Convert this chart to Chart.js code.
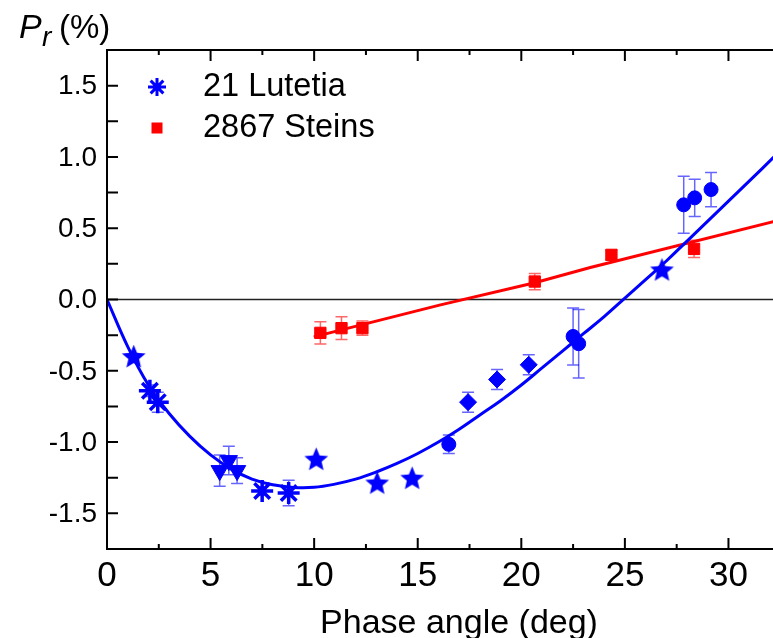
<!DOCTYPE html>
<html lang="en">
<head>
<meta charset="UTF-8">
<title>Polarization vs phase angle</title>
<script src="https://cdn.jsdelivr.net/npm/chart.js"></script>
<style>
  body { margin: 0; background: #fff; }
  canvas { display: block; }
</style>
</head>
<body>
<canvas id="myChart" width="773" height="638"></canvas>
<script>
// 21 Lutetia, one pair of arrays per marker type
const lutStarX = [1.29, 10.1, 13.04, 14.73, 26.79];
const lutStarY = [-0.40, -1.12, -1.287, -1.253, 0.208];
const lutStarErr = [0, 0, 0, 0, 0];

const lutAstX = [2.07, 2.45, 7.49, 8.77];
const lutAstY = [-0.64, -0.72, -1.343, -1.357];
const lutAstErr = [0.04, 0.07, 0.03, 0.09];

const lutTriX = [5.44, 5.88, 6.28];
const lutTriY = [-1.20, -1.13, -1.20];
const lutTriErr = [0.11, 0.10, 0.09];

const lutCircX = [16.5, 22.5, 22.77, 27.84, 28.37, 29.16];
const lutCircY = [-1.016, -0.259, -0.31, 0.664, 0.713, 0.771];
const lutCircErr = [0.065, 0.20, 0.24, 0.20, 0.13, 0.12];

const lutDiaX = [17.43, 18.83, 20.36];
const lutDiaY = [-0.72, -0.561, -0.458];
const lutDiaErr = [0.07, 0.07, 0.07];

// 2867 Steins
const steinsX = [10.3, 11.32, 12.33, 20.65, 24.35, 28.34];
const steinsY = [-0.234, -0.201, -0.201, 0.126, 0.313, 0.355];
const steinsErr = [0.078, 0.08, 0.05, 0.057, 0.035, 0.06];

// fitted curves
const fitLutX = [0, 1, 2, 3, 4, 5, 6, 7, 8, 9, 10, 11, 12, 13, 14, 15, 16, 17, 18, 19, 20, 21, 22, 23, 24, 25, 26, 27, 28, 29, 30, 31, 32.2];
const fitLutY = [0, -0.33, -0.60, -0.80, -0.96, -1.09, -1.19, -1.26, -1.30, -1.318, -1.317, -1.295, -1.26, -1.21, -1.15, -1.08, -1.00, -0.91, -0.81, -0.71, -0.60, -0.48, -0.36, -0.24, -0.12, 0.01, 0.14, 0.27, 0.41, 0.55, 0.69, 0.83, 1.00];
const fitSteinsX = [9.98, 16.1, 20.65, 23.33, 32.2];
const fitSteinsY = [-0.262, -0.038, 0.118, 0.224, 0.547];

// axis ticks
const xTicks = [0, 5, 10, 15, 20, 25, 30];
const xMinorTicks = [2.5, 7.5, 12.5, 17.5, 22.5, 27.5];
const yTicks = [-1.5, -1.0, -0.5, 0.0, 0.5, 1.0, 1.5];
const yTickLabels = ['-1.5', '-1.0', '-0.5', '0.0', '0.5', '1.0', '1.5'];
const yMinorTicks = [-1.25, -0.75, -0.25, 0.25, 0.75, 1.25];

const BLUE = '#0000ff';
const RED = '#ff0000';
const FONT = '"Liberation Sans", Arial, sans-serif';

function pts(xs, ys) {
    return xs.map((x, i) => ({ x: x, y: ys[i] }));
}

// filled five-point star used as a marker image
function makeStar(r, color) {
    const c = document.createElement('canvas');
    const s = Math.ceil(r * 2 + 2);
    c.width = s;
    c.height = s;
    const g = c.getContext('2d');
    g.fillStyle = color;
    g.beginPath();
    for (let i = 0; i < 10; i++) {
        const rad = i % 2 === 0 ? r : r * 0.45;
        const a = -Math.PI / 2 + i * Math.PI / 5;
        const px = s / 2 + rad * Math.cos(a);
        const py = s / 2 + rad * Math.sin(a) + 0.8;
        if (i === 0) g.moveTo(px, py); else g.lineTo(px, py);
    }
    g.closePath();
    g.fill();
    return c;
}
const starImg = makeStar(12.5, BLUE);

const errorGroups = [
    { xs: lutAstX, ys: lutAstY, err: lutAstErr, color: 'rgba(0,0,255,0.6)' },
    { xs: lutTriX, ys: lutTriY, err: lutTriErr, color: 'rgba(0,0,255,0.6)' },
    { xs: lutCircX, ys: lutCircY, err: lutCircErr, color: 'rgba(0,0,255,0.6)' },
    { xs: lutDiaX, ys: lutDiaY, err: lutDiaErr, color: 'rgba(0,0,255,0.6)' },
    { xs: lutStarX, ys: lutStarY, err: lutStarErr, color: 'rgba(0,0,255,0.6)' },
    { xs: steinsX, ys: steinsY, err: steinsErr, color: 'rgba(255,0,0,0.6)' }
];

const framePlugin = {
    id: 'frame',
    beforeDatasetsDraw(chart) {
        const ctx = chart.ctx;
        const xs = chart.scales.x, ys = chart.scales.y;
        const area = chart.chartArea;
        ctx.save();
        // zero line
        ctx.strokeStyle = '#222';
        ctx.lineWidth = 1.3;
        ctx.beginPath();
        ctx.moveTo(area.left, ys.getPixelForValue(0));
        ctx.lineTo(area.right, ys.getPixelForValue(0));
        ctx.stroke();
        // error bars
        ctx.lineWidth = 1.5;
        errorGroups.forEach(gr => {
            ctx.strokeStyle = gr.color;
            gr.xs.forEach((x, i) => {
                if (!gr.err[i]) return;
                const px = xs.getPixelForValue(x);
                const top = ys.getPixelForValue(gr.ys[i] + gr.err[i]);
                const bot = ys.getPixelForValue(gr.ys[i] - gr.err[i]);
                ctx.beginPath();
                ctx.moveTo(px, top); ctx.lineTo(px, bot);
                ctx.moveTo(px - 6, top); ctx.lineTo(px + 6, top);
                ctx.moveTo(px - 6, bot); ctx.lineTo(px + 6, bot);
                ctx.stroke();
            });
        });
        ctx.restore();
    },
    afterDraw(chart) {
        const ctx = chart.ctx;
        const xs = chart.scales.x, ys = chart.scales.y;
        const area = chart.chartArea;
        ctx.save();
        ctx.strokeStyle = '#000';
        ctx.lineWidth = 2;
        ctx.beginPath();
        ctx.moveTo(area.right, area.top);
        ctx.lineTo(area.left, area.top);
        ctx.lineTo(area.left, area.bottom);
        ctx.lineTo(area.right, area.bottom);
        ctx.stroke();

        // x ticks, bottom and top, pointing inwards
        ctx.beginPath();
        xTicks.forEach(v => {
            const p = xs.getPixelForValue(v);
            ctx.moveTo(p, area.bottom); ctx.lineTo(p, area.bottom - 11);
            ctx.moveTo(p, area.top); ctx.lineTo(p, area.top + 11);
        });
        xMinorTicks.forEach(v => {
            const p = xs.getPixelForValue(v);
            ctx.moveTo(p, area.bottom); ctx.lineTo(p, area.bottom - 5);
            ctx.moveTo(p, area.top); ctx.lineTo(p, area.top + 5);
        });
        // y ticks
        yTicks.concat(yMinorTicks).forEach(v => {
            const p = ys.getPixelForValue(v);
            ctx.moveTo(area.left, p); ctx.lineTo(area.left + 11, p);
        });
        ctx.stroke();

        ctx.fillStyle = '#000';
        ctx.font = '35px ' + FONT;
        ctx.textAlign = 'center';
        ctx.textBaseline = 'top';
        xTicks.forEach(v => {
            ctx.fillText(String(v), xs.getPixelForValue(v), area.bottom + 10);
        });

        ctx.font = '28px ' + FONT;
        ctx.textAlign = 'right';
        ctx.textBaseline = 'middle';
        yTicks.forEach((v, i) => {
            ctx.fillText(yTickLabels[i], area.left - 10, ys.getPixelForValue(v) + 1);
        });

        // axis titles
        ctx.font = '34px ' + FONT;
        ctx.textAlign = 'center';
        ctx.textBaseline = 'alphabetic';
        ctx.fillText('Phase angle (deg)', 459, 633);

        ctx.textAlign = 'left';
        ctx.font = 'italic 34px ' + FONT;
        ctx.fillText('P', 19, 38);
        ctx.font = 'italic 28px ' + FONT;
        ctx.fillText('r', 42, 46);
        ctx.font = '33px ' + FONT;
        ctx.fillText('(%)', 59, 38);

        // legend
        const lx = 157, l1 = 87, l2 = 128;
        ctx.strokeStyle = BLUE;
        ctx.lineWidth = 3;
        ctx.beginPath();
        const r = 9;
        ctx.moveTo(lx, l1 - r); ctx.lineTo(lx, l1 + r);
        ctx.moveTo(lx - r, l1); ctx.lineTo(lx + r, l1);
        const d = r * Math.SQRT1_2;
        ctx.moveTo(lx - d, l1 - d); ctx.lineTo(lx + d, l1 + d);
        ctx.moveTo(lx - d, l1 + d); ctx.lineTo(lx + d, l1 - d);
        ctx.stroke();
        ctx.fillStyle = RED;
        ctx.fillRect(lx - 5.5, l2 - 5.5, 11, 11);

        ctx.fillStyle = '#000';
        ctx.font = '32.5px ' + FONT;
        ctx.textBaseline = 'middle';
        ctx.fillText('21 Lutetia', 203, l1);
        ctx.fillText('2867 Steins', 203, l2);
        ctx.restore();
    }
};

const ctx = document.getElementById('myChart').getContext('2d');
const myChart = new Chart(ctx, {
    type: 'scatter',
    data: {
        datasets: [
            { data: pts(lutStarX, lutStarY), pointStyle: starImg, pointRadius: 12 },
            { data: pts(lutAstX, lutAstY), pointStyle: 'star', pointRadius: 11, borderColor: BLUE, borderWidth: 3.5, backgroundColor: BLUE },
            { data: pts(lutTriX, lutTriY), pointStyle: 'triangle', rotation: 180, pointRadius: 10, backgroundColor: BLUE, borderColor: BLUE, borderWidth: 1 },
            { data: pts(lutCircX, lutCircY), pointStyle: 'circle', pointRadius: 7, backgroundColor: BLUE, borderColor: BLUE, borderWidth: 1 },
            { data: pts(lutDiaX, lutDiaY), pointStyle: 'rectRot', pointRadius: 8.5, backgroundColor: BLUE, borderColor: BLUE, borderWidth: 1 },
            { data: pts(steinsX, steinsY), pointStyle: 'rect', pointRadius: 8, backgroundColor: RED, borderColor: RED, borderWidth: 1 },
            {
                data: pts(fitLutX, fitLutY), showLine: true, pointRadius: 0,
                borderColor: BLUE, borderWidth: 3, tension: 0.4
            },
            {
                data: pts(fitSteinsX, fitSteinsY), showLine: true, pointRadius: 0,
                borderColor: RED, borderWidth: 3, tension: 0
            }
        ]
    },
    options: {
        responsive: false,
        animation: false,
        devicePixelRatio: 1,
        layout: { autoPadding: false, padding: { left: 107, top: 50, right: 0, bottom: 89 } },
        scales: {
            x: { type: 'linear', min: 0, max: 32.15, display: false },
            y: { type: 'linear', min: -1.75, max: 1.75, display: false }
        },
        plugins: {
            legend: { display: false },
            tooltip: { enabled: false }
        }
    },
    plugins: [framePlugin]
});
</script>
</body>
</html>
